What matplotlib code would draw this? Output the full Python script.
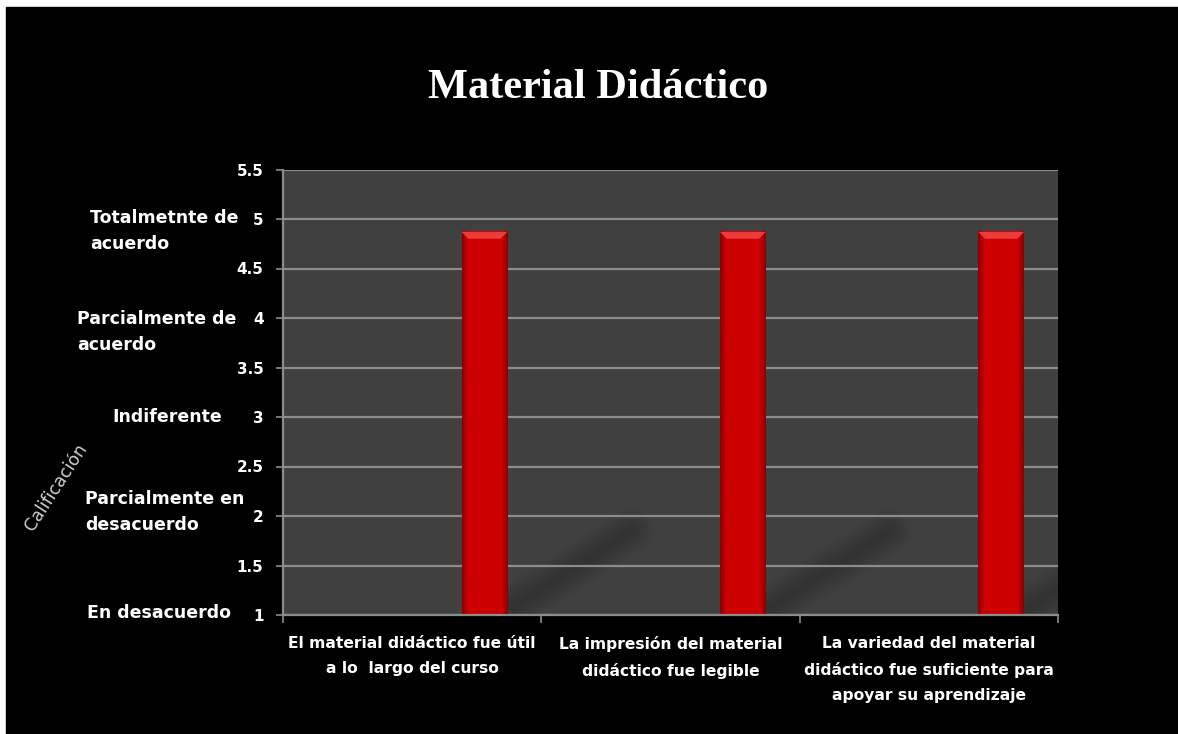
import matplotlib.pyplot as plt
import numpy as np
from matplotlib.patches import Rectangle, Polygon

# survey answers per statement (mean score on the 1-5 scale)
categories = ['El material didáctico fue útil\na lo  largo del curso',
              'La impresión del material\ndidáctico fue legible',
              'La variedad del material\ndidáctico fue suficiente para\napoyar su aprendizaje']
values = [4.87, 4.87, 4.87]

yticks = [1, 1.5, 2, 2.5, 3, 3.5, 4, 4.5, 5, 5.5]
ytick_labels = ['1', '1.5', '2', '2.5', '3', '3.5', '4', '4.5', '5', '5.5']

scale_labels = ['En desacuerdo', 'Parcialmente en\ndesacuerdo', 'Indiferente',
                'Parcialmente de\nacuerdo', 'Totalmetnte de\nacuerdo']
# left edge / vertical centre of each scale label, in pixels
scale_pos = [(87, 613), (85, 512), (112, 417), (77, 332), (90, 231)]

W, H = 1178, 734
FONT = 'DejaVu Sans'

fig = plt.figure(figsize=(W / 100, H / 100), dpi=100, facecolor='white')
fig.add_artist(Rectangle((6 / W, 0), 1, 1 - 7 / H, transform=fig.transFigure,
                         color='black', zorder=-10))

ax = fig.add_axes([283 / W, 1 - 615 / H, 775 / W, 445.5 / H])
ax.set_facecolor('#404040')

grey = '#8c8c8c'
ax.set_axisbelow(True)
ax.yaxis.grid(True, color=grey, lw=1.6)
for s in ['top', 'right']:
    ax.spines[s].set_visible(False)
for s in ['left', 'bottom']:
    ax.spines[s].set_color(grey)
    ax.spines[s].set_linewidth(1.6)

ax.set_yticks(yticks)
ax.set_yticklabels(ytick_labels)
ax.tick_params(axis='y', colors=grey, length=5, width=1.2, pad=9,
               labelcolor='white', labelsize=11)
for t in ax.get_yticklabels():
    t.set_fontfamily(FONT)
    t.set_fontweight('bold')

# category boundaries as ticks, labels centred between them
ax.set_xticks([-0.5, 0.5, 1.5, 2.5])
ax.set_xticklabels([])
ax.tick_params(axis='x', which='major', colors=grey, length=6, width=1.2)
ax.set_xticks(range(len(categories)), minor=True)
ax.set_xticklabels(categories, minor=True)
ax.tick_params(axis='x', which='minor', length=0, pad=15, labelcolor='white',
               labelsize=11.2)
for t in ax.get_xticklabels(minor=True):
    t.set_fontfamily(FONT)
    t.set_fontweight('bold')
    t.set_linespacing(1.85)

x = np.arange(len(values)) + 0.28
bw = 0.178

# soft diagonal shadows behind the bars
for xi in x:
    x0, y0 = xi + bw / 2 + 0.02, 1.08
    x1, y1 = x0 + 0.46, 1.85
    for lw in np.linspace(32, 4, 14):
        ax.plot([x0, x1], [y0, y1], color='black', alpha=0.013, lw=lw,
                solid_capstyle='round', zorder=0.3)

bars = ax.bar(x, values, width=bw, color='#c80000', zorder=2)

# horizontal shading across each bar plus a bevelled top
t = np.linspace(0, 1, 60)
edge = np.clip(np.minimum(t, 1 - t) / 0.13, 0, 1)
shade = 0.55 + 0.25 * edge
grad = np.zeros((1, t.size, 3))
grad[0, :, 0] = shade
for b, v in zip(bars, values):
    x_l = b.get_x()
    ax.imshow(grad, extent=(x_l, x_l + bw, 1, v), aspect='auto',
              zorder=2.1, interpolation='bilinear')
    cap = 0.07
    ax.add_patch(Polygon([(x_l, v), (x_l + bw, v), (x_l + bw * 0.85, v - cap),
                          (x_l + bw * 0.15, v - cap)], closed=True,
                         color='#ee3a3a', zorder=2.2, lw=0))
ax.set_xlim(-0.5, 2.5)
ax.set_ylim(1, 5.5)

fig.text(598 / W, 1 - 88 / H, 'Material Didáctico', ha='center', va='center',
         family='Liberation Serif', weight='bold', size=30.5, color='white')

for lab, (px, py) in zip(scale_labels, scale_pos):
    fig.text(px / W, 1 - py / H, lab, ha='left', va='center', family=FONT,
             weight='bold', size=12.5, color='white', linespacing=1.6)

fig.text(56 / W, 1 - 487 / H, 'Calificación', ha='center', va='center',
         rotation=57, family=FONT, size=12.5, color='#cfcfcf')

fig.savefig('out.png', dpi=100, facecolor=fig.get_facecolor())
